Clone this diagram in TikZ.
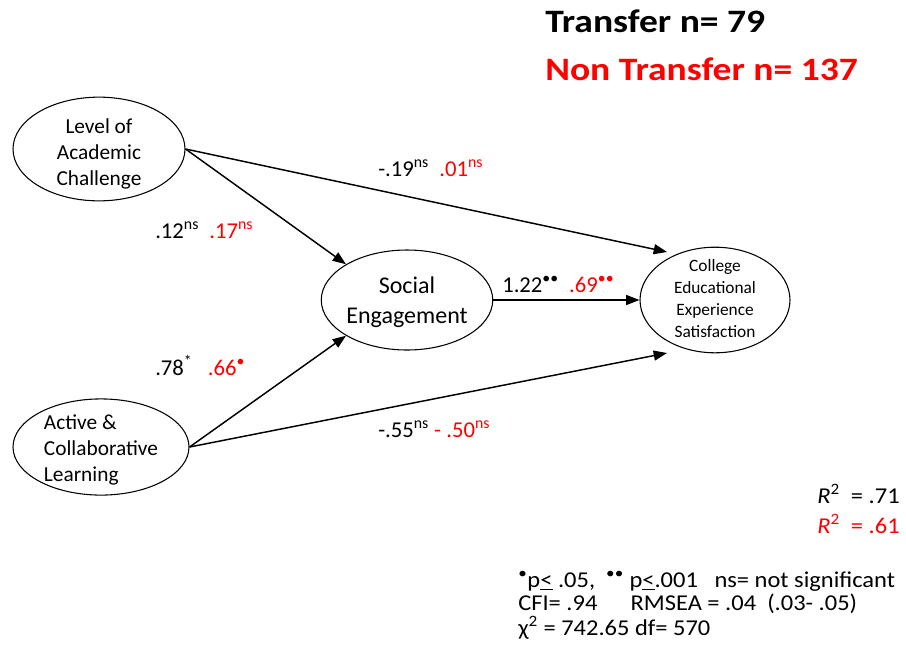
\documentclass[tikz,border=0pt]{standalone}
\usepackage{fontspec}
\setmainfont{Carlito}
\newfontfamily\widefont{Carlito}[FakeStretch=1.15]
\newfontfamily\notefont{Carlito}[FakeStretch=1.08]
\usepackage{xcolor}
\usepackage{tikz}
\usetikzlibrary{shapes.geometric,arrows.meta}
\tikzset{
    every node/.style={font=\fontsize{16}{19.5}\selectfont},
    latent/.style={draw, ellipse, line width=0.8pt, inner sep=0pt, align=center},
    coef/.style={anchor=base west, inner sep=0pt, font=\fontsize{17}{20}\selectfont},
    note/.style={anchor=base west, inner sep=0pt, font=\notefont\fontsize{17}{20}\selectfont},
    path/.style={->, line width=1.1pt}
}
\newcommand{\nsup}{\textsuperscript{ns}}
\newcommand{\dotsup}[1]{\textsuperscript{#1}}

\begin{document}
\begin{tikzpicture}[x=0.75pt, y=-0.75pt, >={Triangle[length=10pt,width=7.5pt]}]
    \useasboundingbox (0,0) rectangle (906,647);

    \node[latent, minimum width=129pt, minimum height=72pt, text height=55pt, text depth=-4pt] (lac) at (99,149) {Level of\\Academic\\Challenge};
    \node[latent, align=left, minimum width=132pt, minimum height=72pt, text height=51pt, text depth=0pt] (acl) at (101,447) {Active \&\\Collaborative\\Learning};
    \node[latent, minimum width=128pt, minimum height=75pt, text height=35.5pt, text depth=0pt, font=\fontsize{18}{22.5}\selectfont] (soc) at (407,300) {Social\\Engagement};
    \node[latent, minimum width=112.5pt, minimum height=78pt, text height=56pt, text depth=-1pt, font=\fontsize{13}{16.5}\selectfont] (ces) at (715,300) {College\\Educational\\Experience\\Satisfaction};

    \coordinate (cesTop) at (667,252);
    \coordinate (cesBot) at (667,353);

    \draw[path] (lac.east) -- (cesTop);
    \draw[path] (lac.east) -- (soc.north west);
    \draw[path] (soc.east) -- (ces.west);
    \draw[path] (acl.east) -- (soc.south west);
    \draw[path] (acl.east) -- (cesBot);

    \node[coef] (b1) at (378,176) {-.19\nsup\ \ \textcolor{red}{.01\nsup}};
    \node[coef] (b2) at (155,238) {.12\nsup\ \ \textcolor{red}{.17\nsup}};
    \node[coef] (b3) at (502,292) {1.22\dotsup{\textbullet\textbullet}\ \ \textcolor{red}{.69\dotsup{\textbullet\textbullet}}};
    \node[coef] (b4) at (155,375) {.78\dotsup{*}\ \ \ \textcolor{red}{.66\dotsup{\textbullet}}};
    \node[coef] (b5) at (378,437) {-.55\nsup\ \textcolor{red}{- .50\nsup}};

    \node[anchor=base west, inner sep=0pt, font=\widefont\bfseries\fontsize{24.5}{28}\selectfont] (tr) at (545,32) {Transfer n= 79};
    \node[anchor=base west, inner sep=0pt, text=red, font=\widefont\bfseries\fontsize{24.5}{28}\selectfont] (ntr) at (545,80) {Non Transfer n= 137};

    \node[note] (r1) at (817,503) {\textit{R}\textsuperscript{2}\ \ = .71};
    \node[note, text=red] (r2) at (817,533) {\textit{R}\textsuperscript{2}\ \ = .61};

    \node[note] (n1) at (518,587) {\dotsup{\textbullet}p\underline{<} .05,\ \ \dotsup{\textbullet\textbullet} p\underline{<}.001\ \ \ ns= not significant};
    \node[note] (n2) at (518,610) {CFI= .94\ \ \ \ \ \ RMSEA = .04\ \ (.03- .05)};
    \node[note] (n3) at (518,635) {χ\textsuperscript{2} = 742.65 df= 570};
\end{tikzpicture}
\end{document}
